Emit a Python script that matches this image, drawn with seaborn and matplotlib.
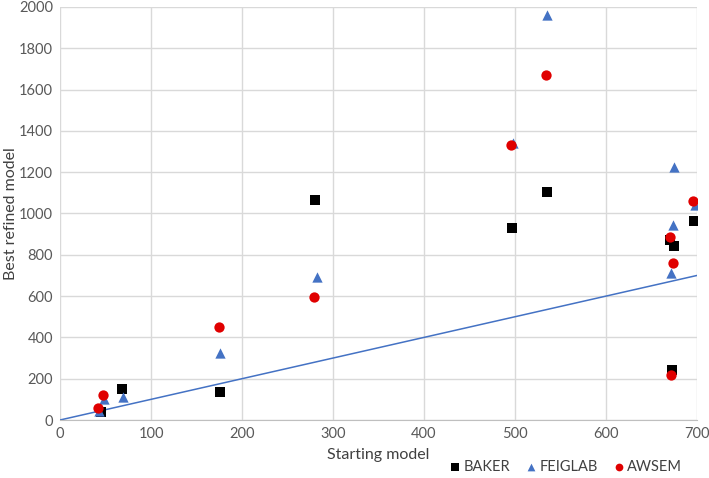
import matplotlib
matplotlib.use("Agg")
import matplotlib.pyplot as plt
import seaborn as sns
import pandas as pd

baker_x = [45, 68, 176, 280, 497, 535, 670, 675, 697, 672]
baker_y = [40, 150, 138, 1063, 930, 1105, 870, 842, 965, 240]
feig_x = [43, 48, 69, 176, 282, 498, 535, 675, 698, 674, 671]
feig_y = [45, 102, 112, 324, 694, 1340, 1961, 1225, 1040, 944, 712]
awsem_x = [42, 47, 175, 279, 496, 534, 696, 670, 674, 671]
awsem_y = [58, 121, 450, 596, 1332, 1671, 1060, 886, 760, 218]
ref_x = [0, 700]
ref_y = [0, 700]

df = pd.concat([
    pd.DataFrame({"x": baker_x, "y": baker_y, "group": "BAKER"}),
    pd.DataFrame({"x": feig_x, "y": feig_y, "group": "FEIGLAB"}),
    pd.DataFrame({"x": awsem_x, "y": awsem_y, "group": "AWSEM"}),
], ignore_index=True)

sns.set_style("white")
plt.rcParams['font.family'] = ['Lato', 'DejaVu Sans']

fig = plt.figure(figsize=(7.09, 4.78), dpi=100)
ax = fig.add_axes([60/709, 1-420/478, (697-60)/709, (420-7)/478])

ax.plot(ref_x, ref_y, color="#4472C4", lw=1.1, zorder=1)

palette = {"BAKER": "#000000", "FEIGLAB": "#4472C4", "AWSEM": "#E00000"}
markers = {"BAKER": "s", "FEIGLAB": "^", "AWSEM": "o"}
sizes = {"BAKER": 60, "FEIGLAB": 55, "AWSEM": 55}
for g in ["BAKER", "FEIGLAB", "AWSEM"]:
    sub = df[df.group == g]
    sns.scatterplot(data=sub, x="x", y="y", color=palette[g], marker=markers[g],
                    s=sizes[g], linewidth=0, ax=ax, label=g, zorder=3)

ax.set_xlim(0, 700)
ax.set_ylim(0, 2000)
ax.set_xticks(range(0, 701, 100))
ax.set_yticks(range(0, 2001, 200))
ax.grid(True, color="#D9D9D9", lw=1)
ax.set_axisbelow(True)
for s in ["top", "right", "left"]:
    ax.spines[s].set_visible(False)
ax.spines["bottom"].set_color("#BFBFBF")
ax.tick_params(axis="both", length=0, labelsize=10.5, colors="#595959", pad=5)
ax.set_xlabel("Starting model", fontsize=11.5, color="#404040", labelpad=5)
ax.set_ylabel("Best refined model", fontsize=11.5, color="#404040")
ax.yaxis.set_label_coords(-0.066, 0.5)

leg = ax.legend(loc="upper right", bbox_to_anchor=(0.993, -0.072), ncol=3, frameon=False,
                fontsize=10.5, handlelength=0.6, handletextpad=0.3, columnspacing=1.1,
                markerscale=0.75, borderpad=0.2)
for t in leg.get_texts():
    t.set_color("#404040")

fig.savefig("out.png", dpi=100)
